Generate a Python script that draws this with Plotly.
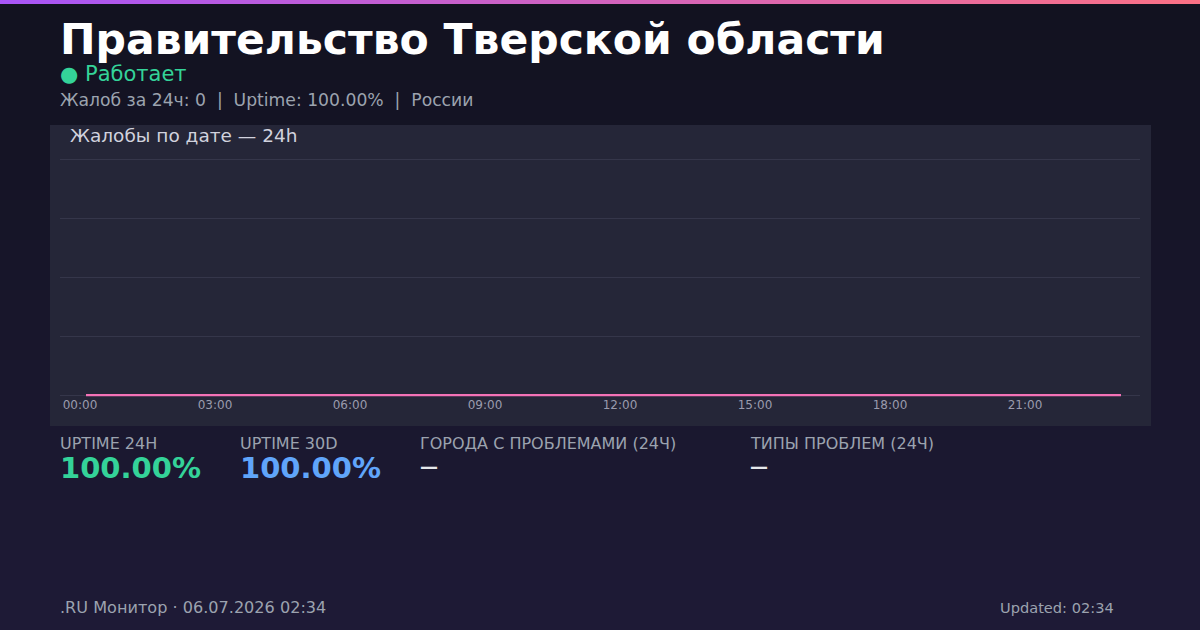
import plotly.graph_objects as go

# ---- data ----
hours = list(range(24))
hour_labels = [f"{h:02d}:00" for h in range(0, 24, 3)]
hour_ticks = list(range(0, 24, 3))
complaints = [0] * 24

title = "Правительство Тверской области"
status = "● Работает"
summary = "Жалоб за 24ч: 0  |  Uptime: 100.00%  |  России"
chart_title = "Жалобы по дате — 24h"
stat_labels = ["UPTIME 24H", "UPTIME 30D", "ГОРОДА С ПРОБЛЕМАМИ (24Ч)", "ТИПЫ ПРОБЛЕМ (24Ч)"]
stat_values = ["100.00%", "100.00%", "—", "—"]
footer_left = ".RU Монитор · 06.07.2026 02:34"
footer_right = "Updated: 02:34"

# ---- canvas geometry (pixels) ----
W, H = 1200, 630
PL, PR, PT, PB = 60, 1140, 157, 398  # plot area (with a small pad around 0..4)
FONT = "DejaVu Sans"


def px(x):
    return (x - PL) / (PR - PL)


def py(y):
    return (PB - y) / (PB - PT)


def lerp(c1, c2, t):
    return "#%02x%02x%02x" % tuple(round(a + (b - a) * t) for a, b in zip(c1, c2))


shapes = []
# vertical background gradient
bg_top, bg_bot = (0x12, 0x12, 0x20), (0x1e, 0x1a, 0x36)
n = 63
for i in range(n):
    shapes.append(dict(type="rect", xref="paper", yref="paper", layer="below",
                       x0=px(0), x1=px(W), y0=py(H * (i + 1) / n), y1=py(H * i / n),
                       fillcolor=lerp(bg_top, bg_bot, i / (n - 1)), line_width=0))
# horizontal accent bar on top
bar_l, bar_r = (0xa8, 0x55, 0xf7), (0xfb, 0x71, 0x85)
m = 120
for i in range(m):
    shapes.append(dict(type="rect", xref="paper", yref="paper", layer="below",
                       x0=px(W * i / m), x1=px(W * (i + 1) / m), y0=py(4), y1=py(0),
                       fillcolor=lerp(bar_l, bar_r, i / (m - 1)), line_width=0))
# chart card
shapes.append(dict(type="rect", xref="paper", yref="paper", layer="below",
                   x0=px(50), x1=px(1151), y0=py(426), y1=py(125),
                   fillcolor="#252638", line_width=0))

fig = go.Figure()
fig.add_trace(go.Scatter(
    x=hours, y=complaints, mode="lines",
    line=dict(color="#f472b6", width=2.2),
    cliponaxis=False, hoverinfo="skip", showlegend=False,
))

ann = []


def text(x, y, s, size, color, bold=False, xanchor="left", yanchor="middle"):
    ann.append(dict(x=px(x), y=py(y), xref="paper", yref="paper", text=s,
                    showarrow=False, xanchor=xanchor, yanchor=yanchor,
                    font=dict(family=FONT, size=size, color=color,
                              weight=700 if bold else 400)))


text(58, 40, title, 42.5, "#ffffff", bold=True)
text(58, 74, status, 21, "#34d399")
text(58, 100, summary, 17.2, "#9ca3af")
text(68, 135, chart_title, 18.5, "#d1d2de")

stat_x = [60, 240, 420, 750]
value_colors = ["#34d399", "#60a5fa", "#e5e7eb", "#e5e7eb"]
value_sizes = [29, 29, 18, 18]
value_y = [468, 468, 466, 466]
for x, lab, val, col, sz, vy in zip(stat_x, stat_labels, stat_values,
                                    value_colors, value_sizes, value_y):
    text(x - 2, 443.5, lab, 16, "#9ca3af")
    text(x - 2, vy, val, sz, col, bold=True)

text(58, 607, footer_left, 16.1, "#9ca3af")
text(1116, 607, footer_right, 14.6, "#9ca3af", xanchor="right")

x0 = -26 / 45
fig.update_layout(
    width=W, height=H,
    margin=dict(l=PL, r=W - PR, t=PT, b=H - PB),
    paper_bgcolor="#12121f", plot_bgcolor="rgba(0,0,0,0)",
    shapes=shapes, annotations=ann,
    font=dict(family=FONT),
    xaxis=dict(range=[x0, x0 + 24], tickvals=hour_ticks, ticktext=hour_labels,
               showgrid=False, zeroline=False, showline=False, ticks="",
               tickfont=dict(size=12, color="#9a9bad"), ticklabelshift=-6,
               ticklabelstandoff=-2, fixedrange=True),
    yaxis=dict(range=[-0.05, 4.05], dtick=1, showticklabels=False, showgrid=True,
               gridcolor="#35364a", gridwidth=1, zeroline=False, showline=False,
               ticks="", fixedrange=True),
)

fig.write_html("out.html")
